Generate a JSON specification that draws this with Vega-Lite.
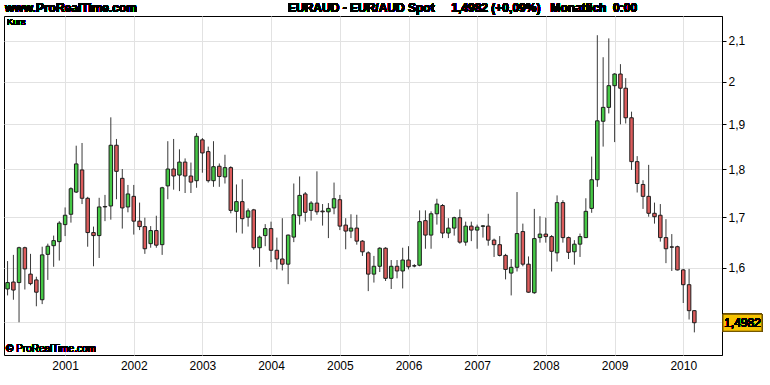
{
  "$schema": "https://vega.github.io/schema/vega-lite/v6.json",
  "autosize": {"type": "none"},
  "width": 718,
  "height": 339,
  "padding": {"left": 4, "top": 16, "right": 48, "bottom": 30},
  "background": "#ffffff",
  "config": {
    "view": {"stroke": "#000000", "strokeWidth": 1},
    "font": "Liberation Sans Narrow, Arial Narrow, Liberation Sans, sans-serif"
  },
  "data": {
    "values": [
      {"d": "2000-03-01", "o": 1.560, "h": 1.613, "l": 1.548, "c": 1.572},
      {"d": "2000-04-01", "o": 1.573, "h": 1.625, "l": 1.540, "c": 1.558},
      {"d": "2000-05-01", "o": 1.572, "h": 1.641, "l": 1.499, "c": 1.639},
      {"d": "2000-06-01", "o": 1.639, "h": 1.641, "l": 1.559, "c": 1.598},
      {"d": "2000-07-01", "o": 1.588, "h": 1.627, "l": 1.567, "c": 1.570},
      {"d": "2000-08-01", "o": 1.577, "h": 1.583, "l": 1.528, "c": 1.554},
      {"d": "2000-09-01", "o": 1.540, "h": 1.641, "l": 1.532, "c": 1.625},
      {"d": "2000-10-01", "o": 1.626, "h": 1.647, "l": 1.577, "c": 1.642},
      {"d": "2000-11-01", "o": 1.643, "h": 1.663, "l": 1.602, "c": 1.653},
      {"d": "2000-12-01", "o": 1.651, "h": 1.692, "l": 1.614, "c": 1.688},
      {"d": "2001-01-01", "o": 1.685, "h": 1.720, "l": 1.662, "c": 1.704},
      {"d": "2001-02-01", "o": 1.706, "h": 1.762, "l": 1.689, "c": 1.759},
      {"d": "2001-03-01", "o": 1.752, "h": 1.852, "l": 1.750, "c": 1.812},
      {"d": "2001-04-01", "o": 1.799, "h": 1.858, "l": 1.727, "c": 1.739},
      {"d": "2001-05-01", "o": 1.739, "h": 1.742, "l": 1.641, "c": 1.669},
      {"d": "2001-06-01", "o": 1.669, "h": 1.681, "l": 1.603, "c": 1.663},
      {"d": "2001-07-01", "o": 1.663, "h": 1.740, "l": 1.619, "c": 1.721},
      {"d": "2001-08-01", "o": 1.722, "h": 1.746, "l": 1.692, "c": 1.721},
      {"d": "2001-09-01", "o": 1.723, "h": 1.916, "l": 1.695, "c": 1.853},
      {"d": "2001-10-01", "o": 1.853, "h": 1.867, "l": 1.737, "c": 1.796},
      {"d": "2001-11-01", "o": 1.781, "h": 1.801, "l": 1.677, "c": 1.719},
      {"d": "2001-12-01", "o": 1.721, "h": 1.767, "l": 1.710, "c": 1.748},
      {"d": "2002-01-01", "o": 1.743, "h": 1.767, "l": 1.665, "c": 1.692},
      {"d": "2002-02-01", "o": 1.692, "h": 1.730, "l": 1.674, "c": 1.681},
      {"d": "2002-03-01", "o": 1.681, "h": 1.699, "l": 1.627, "c": 1.637},
      {"d": "2002-04-01", "o": 1.647, "h": 1.682, "l": 1.639, "c": 1.673},
      {"d": "2002-05-01", "o": 1.673, "h": 1.703, "l": 1.639, "c": 1.644},
      {"d": "2002-06-01", "o": 1.645, "h": 1.763, "l": 1.625, "c": 1.761},
      {"d": "2002-07-01", "o": 1.765, "h": 1.862, "l": 1.737, "c": 1.801},
      {"d": "2002-08-01", "o": 1.801, "h": 1.867, "l": 1.757, "c": 1.786},
      {"d": "2002-09-01", "o": 1.788, "h": 1.844, "l": 1.754, "c": 1.816},
      {"d": "2002-10-01", "o": 1.816, "h": 1.824, "l": 1.750, "c": 1.786},
      {"d": "2002-11-01", "o": 1.786, "h": 1.815, "l": 1.750, "c": 1.773},
      {"d": "2002-12-01", "o": 1.776, "h": 1.880, "l": 1.761, "c": 1.873},
      {"d": "2003-01-01", "o": 1.865, "h": 1.869, "l": 1.793, "c": 1.836},
      {"d": "2003-02-01", "o": 1.839, "h": 1.850, "l": 1.772, "c": 1.776},
      {"d": "2003-03-01", "o": 1.776, "h": 1.862, "l": 1.763, "c": 1.806},
      {"d": "2003-04-01", "o": 1.807, "h": 1.813, "l": 1.763, "c": 1.785},
      {"d": "2003-05-01", "o": 1.784, "h": 1.832, "l": 1.770, "c": 1.804},
      {"d": "2003-06-01", "o": 1.804, "h": 1.807, "l": 1.708, "c": 1.714},
      {"d": "2003-07-01", "o": 1.712, "h": 1.768, "l": 1.669, "c": 1.732},
      {"d": "2003-08-01", "o": 1.732, "h": 1.779, "l": 1.667, "c": 1.697},
      {"d": "2003-09-01", "o": 1.700, "h": 1.718, "l": 1.681, "c": 1.713},
      {"d": "2003-10-01", "o": 1.715, "h": 1.717, "l": 1.635, "c": 1.639},
      {"d": "2003-11-01", "o": 1.639, "h": 1.663, "l": 1.602, "c": 1.660},
      {"d": "2003-12-01", "o": 1.663, "h": 1.686, "l": 1.642, "c": 1.677},
      {"d": "2004-01-01", "o": 1.677, "h": 1.691, "l": 1.611, "c": 1.634},
      {"d": "2004-02-01", "o": 1.634, "h": 1.659, "l": 1.597, "c": 1.617},
      {"d": "2004-03-01", "o": 1.617, "h": 1.698, "l": 1.595, "c": 1.607},
      {"d": "2004-04-01", "o": 1.607, "h": 1.665, "l": 1.569, "c": 1.664},
      {"d": "2004-05-01", "o": 1.660, "h": 1.770, "l": 1.650, "c": 1.705},
      {"d": "2004-06-01", "o": 1.703, "h": 1.785, "l": 1.685, "c": 1.745},
      {"d": "2004-07-01", "o": 1.748, "h": 1.752, "l": 1.691, "c": 1.710},
      {"d": "2004-08-01", "o": 1.714, "h": 1.733, "l": 1.693, "c": 1.729},
      {"d": "2004-09-01", "o": 1.729, "h": 1.796, "l": 1.705, "c": 1.711},
      {"d": "2004-10-01", "o": 1.7125, "h": 1.727, "l": 1.683, "c": 1.711},
      {"d": "2004-11-01", "o": 1.711, "h": 1.729, "l": 1.658, "c": 1.718},
      {"d": "2004-12-01", "o": 1.719, "h": 1.772, "l": 1.706, "c": 1.738},
      {"d": "2005-01-01", "o": 1.736, "h": 1.746, "l": 1.674, "c": 1.682},
      {"d": "2005-02-01", "o": 1.684, "h": 1.698, "l": 1.636, "c": 1.672},
      {"d": "2005-03-01", "o": 1.672, "h": 1.706, "l": 1.658, "c": 1.678},
      {"d": "2005-04-01", "o": 1.678, "h": 1.705, "l": 1.645, "c": 1.652},
      {"d": "2005-05-01", "o": 1.652, "h": 1.654, "l": 1.623, "c": 1.631},
      {"d": "2005-06-01", "o": 1.629, "h": 1.632, "l": 1.556, "c": 1.588},
      {"d": "2005-07-01", "o": 1.588, "h": 1.623, "l": 1.572, "c": 1.603},
      {"d": "2005-08-01", "o": 1.603, "h": 1.640, "l": 1.592, "c": 1.638},
      {"d": "2005-09-01", "o": 1.638, "h": 1.640, "l": 1.575, "c": 1.580},
      {"d": "2005-10-01", "o": 1.580, "h": 1.615, "l": 1.560, "c": 1.603},
      {"d": "2005-11-01", "o": 1.603, "h": 1.615, "l": 1.580, "c": 1.594},
      {"d": "2005-12-01", "o": 1.594, "h": 1.639, "l": 1.561, "c": 1.615},
      {"d": "2006-01-01", "o": 1.615, "h": 1.642, "l": 1.597, "c": 1.602},
      {"d": "2006-02-01", "o": 1.604, "h": 1.607, "l": 1.601, "c": 1.6035},
      {"d": "2006-03-01", "o": 1.605, "h": 1.714, "l": 1.603, "c": 1.691},
      {"d": "2006-04-01", "o": 1.693, "h": 1.714, "l": 1.637, "c": 1.664},
      {"d": "2006-05-01", "o": 1.664, "h": 1.712, "l": 1.637, "c": 1.707},
      {"d": "2006-06-01", "o": 1.707, "h": 1.738, "l": 1.685, "c": 1.727},
      {"d": "2006-07-01", "o": 1.724, "h": 1.727, "l": 1.658, "c": 1.668},
      {"d": "2006-08-01", "o": 1.668, "h": 1.698, "l": 1.658, "c": 1.678},
      {"d": "2006-09-01", "o": 1.678, "h": 1.701, "l": 1.663, "c": 1.699},
      {"d": "2006-10-01", "o": 1.699, "h": 1.716, "l": 1.647, "c": 1.650},
      {"d": "2006-11-01", "o": 1.650, "h": 1.691, "l": 1.643, "c": 1.682},
      {"d": "2006-12-01", "o": 1.682, "h": 1.691, "l": 1.652, "c": 1.674},
      {"d": "2007-01-01", "o": 1.674, "h": 1.685, "l": 1.637, "c": 1.680},
      {"d": "2007-02-01", "o": 1.6815, "h": 1.684, "l": 1.659, "c": 1.6825},
      {"d": "2007-03-01", "o": 1.682, "h": 1.707, "l": 1.643, "c": 1.654},
      {"d": "2007-04-01", "o": 1.654, "h": 1.657, "l": 1.621, "c": 1.645},
      {"d": "2007-05-01", "o": 1.645, "h": 1.662, "l": 1.622, "c": 1.624},
      {"d": "2007-06-01", "o": 1.624, "h": 1.627, "l": 1.578, "c": 1.597},
      {"d": "2007-07-01", "o": 1.590, "h": 1.617, "l": 1.548, "c": 1.601},
      {"d": "2007-08-01", "o": 1.601, "h": 1.752, "l": 1.593, "c": 1.667},
      {"d": "2007-09-01", "o": 1.671, "h": 1.687, "l": 1.603, "c": 1.607},
      {"d": "2007-10-01", "o": 1.607, "h": 1.622, "l": 1.553, "c": 1.554},
      {"d": "2007-11-01", "o": 1.553, "h": 1.717, "l": 1.551, "c": 1.657},
      {"d": "2007-12-01", "o": 1.659, "h": 1.702, "l": 1.649, "c": 1.666},
      {"d": "2008-01-01", "o": 1.666, "h": 1.699, "l": 1.649, "c": 1.661},
      {"d": "2008-02-01", "o": 1.661, "h": 1.664, "l": 1.593, "c": 1.632},
      {"d": "2008-03-01", "o": 1.629, "h": 1.745, "l": 1.612, "c": 1.730},
      {"d": "2008-04-01", "o": 1.730, "h": 1.735, "l": 1.649, "c": 1.659},
      {"d": "2008-05-01", "o": 1.659, "h": 1.661, "l": 1.617, "c": 1.630},
      {"d": "2008-06-01", "o": 1.631, "h": 1.654, "l": 1.606, "c": 1.646},
      {"d": "2008-07-01", "o": 1.646, "h": 1.667, "l": 1.621, "c": 1.661},
      {"d": "2008-08-01", "o": 1.659, "h": 1.739, "l": 1.658, "c": 1.712},
      {"d": "2008-09-01", "o": 1.718, "h": 1.828, "l": 1.709, "c": 1.778},
      {"d": "2008-10-01", "o": 1.778, "h": 2.114, "l": 1.763, "c": 1.908},
      {"d": "2008-11-01", "o": 1.907, "h": 2.059, "l": 1.850, "c": 1.939},
      {"d": "2008-12-01", "o": 1.939, "h": 2.106, "l": 1.925, "c": 1.990},
      {"d": "2009-01-01", "o": 1.990, "h": 2.020, "l": 1.860, "c": 2.018},
      {"d": "2009-02-01", "o": 2.018, "h": 2.042, "l": 1.900, "c": 1.984},
      {"d": "2009-03-01", "o": 1.984, "h": 2.008, "l": 1.902, "c": 1.915},
      {"d": "2009-04-01", "o": 1.915, "h": 1.929, "l": 1.799, "c": 1.817},
      {"d": "2009-05-01", "o": 1.817, "h": 1.829, "l": 1.751, "c": 1.770},
      {"d": "2009-06-01", "o": 1.768, "h": 1.777, "l": 1.717, "c": 1.743},
      {"d": "2009-07-01", "o": 1.743, "h": 1.810, "l": 1.701, "c": 1.708},
      {"d": "2009-08-01", "o": 1.708, "h": 1.730, "l": 1.687, "c": 1.701},
      {"d": "2009-09-01", "o": 1.704, "h": 1.727, "l": 1.651, "c": 1.659},
      {"d": "2009-10-01", "o": 1.659, "h": 1.696, "l": 1.609, "c": 1.637},
      {"d": "2009-11-01", "o": 1.6407, "h": 1.666, "l": 1.594, "c": 1.640},
      {"d": "2009-12-01", "o": 1.641, "h": 1.643, "l": 1.595, "c": 1.596},
      {"d": "2010-01-01", "o": 1.596, "h": 1.598, "l": 1.534, "c": 1.568},
      {"d": "2010-02-01", "o": 1.568, "h": 1.598, "l": 1.504, "c": 1.520},
      {"d": "2010-03-01", "o": 1.520, "h": 1.521, "l": 1.481, "c": 1.4982}
    ]
  },
  "layer": [
    {
      "mark": {"type": "rule", "color": "#3a3a3a", "strokeWidth": 1},
      "encoding": {
        "x": {
          "field": "d", "type": "temporal",
          "scale": {"type": "utc", "padding": 0, "domain": [{"year": 2000, "month": 2, "date": 11, "utc": true}, {"year": 2010, "month": 7, "date": 26, "utc": true}]},
          "axis": {
            "title": null, "format": "%Y", "tickCount": {"interval": "year", "step": 1},
            "grid": true, "gridColor": "#e2e2e2", "gridWidth": 1,
            "domain": false, "ticks": false, "labelPadding": 5,
            "labelFontSize": 12, "labelColor": "#000000", "labelFlush": false, "labelOverlap": false,
            "labelFont": "Liberation Sans Narrow, Arial Narrow, Liberation Sans, sans-serif"
          }
        },
        "y": {
          "field": "l", "type": "quantitative",
          "scale": {"type": "log", "domain": [1.4414, 2.1632], "nice": false, "zero": false},
          "axis": {
            "orient": "right", "title": null,
            "values": [1.5, 1.6, 1.7, 1.8, 1.9, 2.0, 2.1],
            "labelExpr": "datum.value < 1.55 ? '' : replace(format(datum.value, '.1~f'), '.', ',')",
            "grid": true, "gridColor": "#e2e2e2", "gridWidth": 1,
            "domain": true, "domainColor": "#000000", "ticks": true, "tickSize": 4, "tickColor": "#000000",
            "labelPadding": 2, "labelFontSize": 12, "labelColor": "#000000",
            "labelFont": "Liberation Sans Narrow, Arial Narrow, Liberation Sans, sans-serif"
          }
        },
        "y2": {"field": "h"}
      }
    },
    {
      "mark": {"type": "bar", "size": 3.5, "stroke": "#1e1e1e", "strokeWidth": 1},
      "encoding": {
        "x": {"field": "d", "type": "temporal", "axis": {"title": null}},
        "y": {"field": "o", "type": "quantitative", "axis": {"title": null}},
        "y2": {"field": "c"},
        "fill": {
          "condition": {"test": "datum.c >= datum.o", "value": "#45c845"},
          "value": "#dc5c5c"
        }
      }
    },
    {
      "mark": {"type": "text", "text": "Kurs", "align": "left", "baseline": "top", "dx": 3, "dy": 2, "fontSize": 9, "fontWeight": "normal", "color": "#000000"},
      "encoding": {
        "x": {"datum": {"year": 2000, "month": 2, "date": 11, "utc": true}, "type": "temporal", "axis": {"title": null}},
        "y": {"datum": 2.1632, "type": "quantitative", "axis": {"title": null}}
      }
    },
    {
      "mark": {"type": "text", "text": "\u00a9 ProRealTime.com", "align": "left", "baseline": "bottom", "dx": 2, "dy": -1, "fontSize": 10, "fontWeight": "normal", "color": "#000000"},
      "encoding": {
        "x": {"datum": {"year": 2000, "month": 2, "date": 11, "utc": true}, "type": "temporal", "axis": {"title": null}},
        "y": {"datum": 1.4414, "type": "quantitative", "axis": {"title": null}}
      }
    },
    {
      "mark": {"type": "text", "text": "www.ProRealTime.com", "align": "left", "baseline": "alphabetic", "dx": 1, "dy": -4, "fontSize": 12, "fontWeight": "bold", "color": "#000000"},
      "encoding": {
        "x": {"datum": {"year": 2000, "month": 2, "date": 11, "utc": true}, "type": "temporal", "axis": {"title": null}},
        "y": {"datum": 2.1632, "type": "quantitative", "axis": {"title": null}}
      }
    },
    {
      "mark": {"type": "text", "text": "EURAUD - EUR/AUD Spot\u00a0\u00a0\u00a0\u00a0 1,4982 (+0,09%)\u00a0\u00a0 Monatlich\u00a0 0:00", "align": "left", "baseline": "alphabetic", "dx": 284, "dy": -4, "fontSize": 12, "fontWeight": "bold", "color": "#000000"},
      "encoding": {
        "x": {"datum": {"year": 2000, "month": 2, "date": 11, "utc": true}, "type": "temporal", "axis": {"title": null}},
        "y": {"datum": 2.1632, "type": "quantitative", "axis": {"title": null}}
      }
    },
    {
      "mark": {"type": "point", "shape": "M-1,-0.436H1V0.436H-1Z", "size": 1521, "filled": true, "fill": "#f7c300", "stroke": "#6b5000", "strokeWidth": 1, "opacity": 1},
      "encoding": {
        "x": {"datum": {"year": 2010, "month": 11, "date": 12, "utc": true}, "type": "temporal", "axis": {"title": null}},
        "y": {"datum": 1.4982, "type": "quantitative", "axis": {"title": null}}
      }
    },
    {
      "mark": {"type": "text", "text": "1,4982", "align": "center", "baseline": "middle", "fontSize": 12, "fontWeight": "normal", "color": "#000000"},
      "encoding": {
        "x": {"datum": {"year": 2010, "month": 11, "date": 12, "utc": true}, "type": "temporal", "axis": {"title": null}},
        "y": {"datum": 1.4982, "type": "quantitative", "axis": {"title": null}}
      }
    }
  ]
}
